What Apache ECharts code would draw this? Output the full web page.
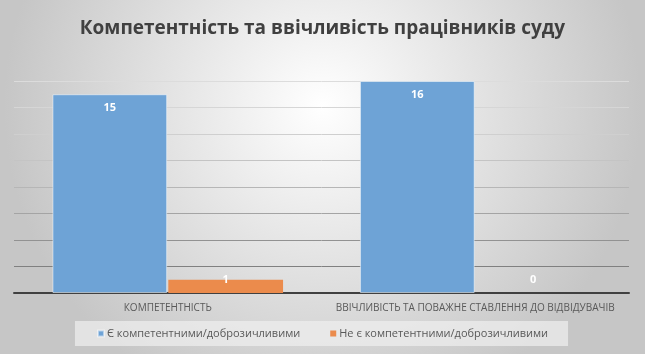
<!DOCTYPE html>
<html>
<head>
<meta charset="utf-8">
<script src="https://cdn.jsdelivr.net/npm/echarts@6/dist/echarts.min.js"></script>
<style>
  html, body { margin: 0; padding: 0; }
  #main { width: 645px; height: 354px; }
</style>
</head>
<body>
<div id="main"></div>
<script>
var categories = ['КОМПЕТЕНТНІСТЬ', 'ВВІЧЛИВІСТЬ ТА ПОВАЖНЕ СТАВЛЕННЯ ДО ВІДВІДУВАЧІВ'];
var seriesNames = ['Є компетентними/доброзичливими', 'Не є компетентними/доброзичливими'];
var yesValues = [15, 16];
var noValues = [1, 0];

var font = '"Open Sans", sans-serif';

var chart = echarts.init(document.getElementById('main'));

// small bars get their label lifted above the bar top
function withLabels(values) {
    return values.map(function (v) {
        if (v < 3) {
            return { value: v, label: { position: ['50%', v === 0 ? -13 : 0], align: 'center', verticalAlign: 'middle' } };
        }
        return v;
    });
}

var gridColors = ['#404040', '#808080', '#929292', '#a4a4a4', '#b6b6b6', '#c4c4c4', '#cfcfcf', '#d6d6d6', '#dcdcdc'];

var option = {
    backgroundColor: {
        type: 'radial', x: 0.5, y: 0.3, r: 0.9,
        colorStops: [{ offset: 0, color: '#ffffff' }, { offset: 1, color: '#c6c6c6' }]
    },
    title: {
        text: 'Компетентність та ввічливість працівників суду',
        left: 'center',
        top: 14,
        textStyle: { fontFamily: font, fontSize: 19, fontWeight: 'bold', color: '#404040' }
    },
    legend: {
        bottom: 8,
        left: 'center',
        itemWidth: 6,
        itemHeight: 6,
        itemGap: 30,
        padding: [7, 20, 7, 22],
        backgroundColor: 'rgba(240,240,240,0.7)',
        icon: 'rect',
        textStyle: { fontFamily: font, fontSize: 11, color: '#595959', padding: [0, 0, 0, -2] },
        data: seriesNames
    },
    grid: { left: 14, right: 16, top: 81, bottom: 61 },
    xAxis: {
        type: 'category',
        data: categories,
        axisLine: { lineStyle: { color: '#404040', width: 2 } },
        axisTick: { show: false },
        axisLabel: { interval: 0, fontFamily: font, fontSize: 10, color: '#595959', margin: 10 }
    },
    yAxis: {
        type: 'value',
        min: 0,
        max: 16,
        interval: 2,
        axisLabel: { show: false },
        splitLine: { lineStyle: { color: gridColors, width: 1 } }
    },
    series: [
        {
            name: seriesNames[0],
            type: 'bar',
            barGap: '1%',
            barCategoryGap: '25%',
            data: withLabels(yesValues),
            itemStyle: { color: '#6ea3d6', borderColor: 'rgba(255,255,255,0.5)', borderWidth: 1 },
            label: { show: true, position: 'insideTop', distance: 8, color: '#ffffff', fontWeight: 'bold', fontFamily: font, fontSize: 11 }
        },
        {
            name: seriesNames[1],
            type: 'bar',
            data: withLabels(noValues),
            itemStyle: { color: '#eb8b4c' },
            label: { show: true, position: 'insideTop', distance: 8, color: '#ffffff', fontWeight: 'bold', fontFamily: font, fontSize: 11 }
        }
    ]
};

chart.setOption(option);
</script>
</body>
</html>
